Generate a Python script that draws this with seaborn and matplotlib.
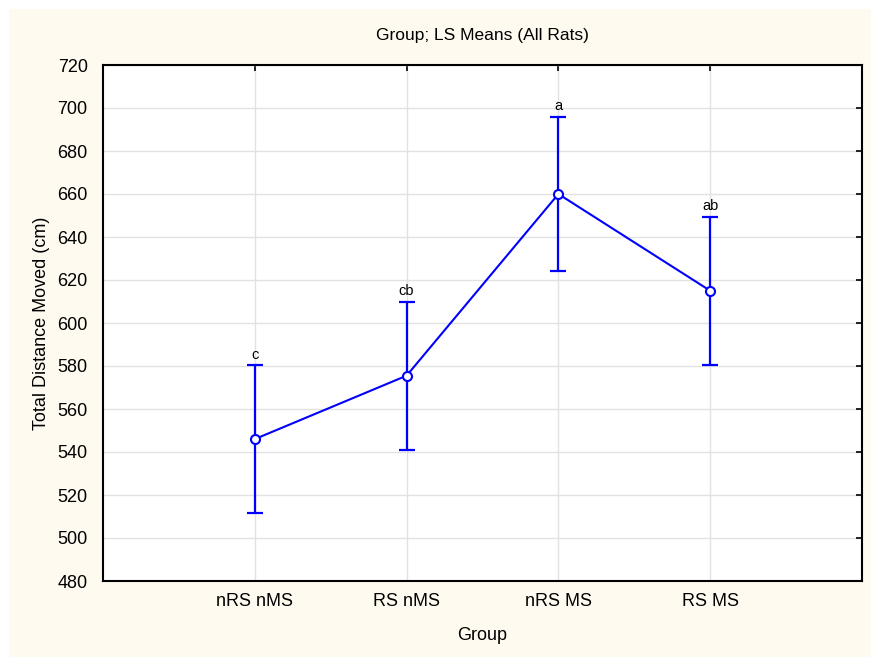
import seaborn as sns
import matplotlib.pyplot as plt
from matplotlib.patches import Rectangle

### Data
groups = ['nRS nMS', 'RS nMS', 'nRS MS', 'RS MS']
means = [546, 575.5, 660, 615]
errors = [34.5, 34.5, 36, 34.5]
letters = ['c', 'cb', 'a', 'ab']
positions = list(range(len(groups)))

sns.set_style('white')
plt.rcParams['font.family'] = ['Liberation Sans', 'DejaVu Sans']
plt.rcParams['text.color'] = 'black'
plt.rcParams['axes.labelcolor'] = 'black'
plt.rcParams['xtick.labelcolor'] = 'black'
plt.rcParams['ytick.labelcolor'] = 'black'

fig = plt.figure(figsize=(8.71, 6.57), dpi=100, facecolor='white')
fig.patches.append(Rectangle((9 / 871, 0), 1, 1 - 9 / 657, transform=fig.transFigure,
                             facecolor='#fffaf0', edgecolor='none', zorder=-10))
ax = fig.add_axes([103 / 871, 1 - 581 / 657, 759 / 871, 516 / 657])
ax.set_facecolor('white')

### Error bars and mean line
ax.errorbar(positions, means, yerr=errors, fmt='none', ecolor='#0000ff',
            elinewidth=1.6, capsize=6, capthick=1.6, zorder=3)
sns.lineplot(x=positions, y=means, ax=ax, color='#0000ff', linewidth=1.5,
             marker='o', markersize=6.5, markerfacecolor='white',
             markeredgecolor='#0000ff', markeredgewidth=1.5, zorder=4)

for p, m, e, t in zip(positions, means, errors, letters):
    ax.text(p, m + e + 1.5, t, ha='center', va='bottom', fontsize=10.5, color='black')

### Axes, ticks and grid
ax.set_xlim(-1, 4)
ax.set_ylim(480, 720)
ax.set_yticks(range(480, 721, 20))
ax.set_xticks(positions)
ax.set_xticklabels(groups)
ax.grid(True, color='#e2e2e2', linewidth=1)
ax.set_axisbelow(True)
ax.tick_params(direction='in', length=4, width=1.2, color='black',
               top=True, right=True, labelsize=13)
ax.tick_params(axis='y', pad=11)
ax.tick_params(axis='x', pad=9)
for s in ax.spines.values():
    s.set_color('black')
    s.set_linewidth(1.5)

ax.set_title('Group; LS Means (All Rats)', fontsize=12.5, pad=18)
ax.set_xlabel('Group', fontsize=13, labelpad=12)
ax.set_ylabel('Total Distance Moved (cm)', fontsize=13, labelpad=5)

fig.savefig('out.png', dpi=100, facecolor=fig.get_facecolor())
